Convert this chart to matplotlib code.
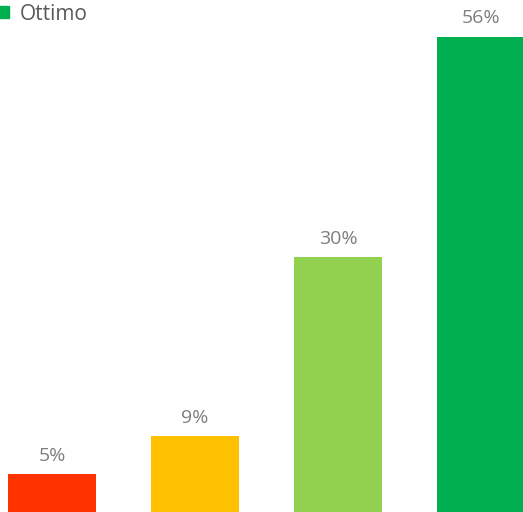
import matplotlib
matplotlib.use("Agg")
import matplotlib.pyplot as plt
from matplotlib.patches import Patch

categories = ["Scarso", "Sufficiente", "Buono", "Ottimo"]
values = [4.5, 9, 30, 56]
labels = ["5%", "9%", "30%", "56%"]
colors = ["#FF3300", "#FFC000", "#92D050", "#00B050"]
legend_items = ["Ottimo"]

plt.rcParams['font.family'] = ['Open Sans', 'DejaVu Sans']

fig = plt.figure(figsize=(5.23, 5.12), dpi=100)
ax = fig.add_axes([0, 0, 1, 1])
x = list(range(len(categories)))
bars = ax.bar(x, values, width=0.615, color=colors)
for b, lab in zip(bars, labels):
    ax.annotate(lab, (b.get_x() + b.get_width() / 2, b.get_height()),
                xytext=(0, 6.5), textcoords="offset points", ha="center", va="bottom",
                fontsize=14, color="#7F7F7F")
ax.set_xlim(-0.3636, 3.2937)
ax.set_ylim(0, 60.3)
ax.axis("off")

handles = [Patch(color=colors[3], label=legend_items[0])]
fig.legend(handles=handles, loc="upper left", bbox_to_anchor=(-0.004, 0.993),
           frameon=False, fontsize=15, handlelength=0.55, handleheight=0.55,
           handletextpad=0.5, borderpad=0, borderaxespad=0, labelcolor="#595959")
fig.savefig("out.png", dpi=100)
